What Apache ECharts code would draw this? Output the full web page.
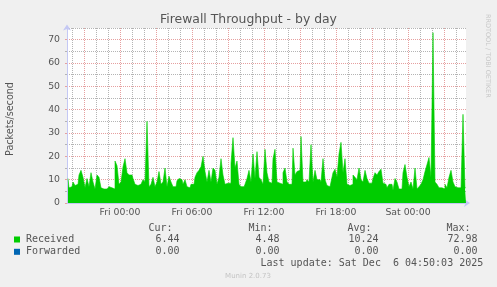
<!DOCTYPE html>
<html><head><meta charset="utf-8">
<script src="https://cdn.jsdelivr.net/npm/echarts@6/dist/echarts.min.js"></script>
<style>html,body{margin:0;padding:0;background:#f0f0f0}#c{width:497px;height:287px}</style>
</head><body><div id="c"></div><script>
const chartTitle = 'Firewall Throughput - by day';
const yAxisTitle = 'Packets/second';
const sideText = 'RRDTOOL / TOBI OETIKER';
const footerText = 'Munin 2.0.73';
const lastUpdateText = 'Last update: Sat Dec  6 04:50:03 2025';

// time in minutes since Thu 00:00; 10-minute samples from Thu 19:40
const dayNames = ['Thu', 'Fri', 'Sat'];
const viewStart = 19 * 60 + 35;          // Thu 19:35
const viewEnd = 2 * 1440 + 4 * 60 + 50;  // Sat 04:50
const firstSample = 19 * 60 + 40;
const stepMinutes = 10;
const received = [
  10.5, 6.5, 7, 9, 7.5, 8, 12, 14, 11, 6.5,
  10.5, 7, 13, 9, 6, 12, 11, 6.5, 6, 6,
  6, 7, 6.5, 6, 18, 16, 8, 9, 15.5, 19,
  13, 12, 12, 10.5, 8, 7.5, 8, 8.5, 10, 9,
  35, 7, 8, 11, 7, 9, 13.5, 8, 9, 15,
  7, 11.5, 9, 7, 7, 9.5, 10.5, 10, 8, 10,
  7, 6.5, 8, 8, 11, 13, 14, 15.5, 20, 13.5,
  9, 14, 9, 15, 14, 8, 11, 19, 12, 8,
  8.5, 8.5, 17, 28, 15, 18, 8, 7, 7, 8,
  10.5, 14, 9, 21, 10.5, 22, 11, 10, 8, 23,
  13, 9, 8.5, 19, 23, 9, 8.5, 8, 13, 15,
  9, 8, 8, 23.5, 12, 13.5, 14, 28.5, 9, 9,
  10, 9, 25, 9, 14, 10, 10, 9, 19, 10,
  7.5, 7, 9, 13, 14.5, 11, 21, 26, 13, 19,
  8, 7.5, 8, 12, 11, 10, 15, 10, 9, 14,
  10.5, 8.5, 8.5, 10.5, 13, 12, 13.5, 14.5, 8.5, 8,
  6.5, 8, 8, 5.5, 10.5, 9, 6, 6, 13, 16.5,
  11, 7, 9, 6, 15, 6, 7, 8, 10, 13.5,
  16.5, 19.5, 11, 73, 9, 8, 6.5, 6.5, 6, 8,
  6.5, 11, 14, 9, 7, 6.5, 6.5, 6.5, 38, 6.5
];
const xTickLabels = ['Fri 00:00', 'Fri 06:00', 'Fri 12:00', 'Fri 18:00', 'Sat 00:00'];
const yMax = 75;

const legendNames = ['Received', 'Forwarded'];
const statHeaders = ['Cur:', 'Min:', 'Avg:', 'Max:'];
const curValues = ['6.44', '0.00'];
const minValues = ['4.48', '0.00'];
const avgValues = ['10.24', '0.00'];
const maxValues = ['72.98', '0.00'];

const toMinute = s => dayNames.indexOf(s.slice(0, 3)) * 1440 + parseInt(s.slice(4, 6), 10) * 60 + parseInt(s.slice(7, 9), 10);
const labelAt = {};
xTickLabels.forEach(s => { labelAt[toMinute(s)] = s; });
const seriesData = received.map((v, i) => [firstSample + i * stepMinutes, v]);

const TXT = '#555';
const GRID_GREY = '#b4b4b4';
const GRID_RED = '#e6a0a0';
const AXIS_COL = '#c4c8f4';
const NONE = 'rgba(0,0,0,0)';
const SANS = 'DejaVu Sans';

// split lines every 5 minutes; colour cycle (3 hours) puts grey on hours, red every 3rd hour
const tickStep = 5;
const vLineColors = [];
for (let k = 0; k < 36; k++) {
  const m = viewStart + k * tickStep;
  const isHr = m % 60 === 0;
  vLineColors.push(!isHr ? NONE : ((m / 60) % 3 === 0 ? GRID_RED : GRID_GREY));
}

const seriesColors = ['#00cc00', '#0066b3'];
const graphic = [
  { type: 'text', x: 248.5, y: 20, style: { text: chartTitle, font: '12.4px "DejaVu Sans"', fill: TXT, textAlign: 'center', textVerticalAlign: 'middle' } },
  { type: 'text', x: 10.5, y: 119, rotation: Math.PI / 2, style: { text: yAxisTitle, font: '9.6px "DejaVu Sans"', fill: TXT, textAlign: 'center', textVerticalAlign: 'middle' } },
  { type: 'text', x: 488, y: 14, rotation: -Math.PI / 2, style: { text: sideText, font: '6.5px "DejaVu Sans"', fill: '#c8c8c8', textAlign: 'left', textVerticalAlign: 'middle' } },
  { type: 'text', x: 248, y: 276, style: { text: footerText, font: '7px "DejaVu Sans"', fill: '#c4c4c4', textAlign: 'center', textVerticalAlign: 'middle' } },
  { type: 'text', x: 260.5, y: 263.5, style: { text: lastUpdateText, font: '10px "DejaVu Sans Mono"', fill: TXT, textAlign: 'left', textVerticalAlign: 'middle' } }
];
const headerX = [148.5, 248.5, 347.5, 446.5];
const valueRight = [179.5, 279.5, 378.5, 477.5];
const statCols = [curValues, minValues, avgValues, maxValues];
statHeaders.forEach((h, j) => {
  graphic.push({ type: 'text', x: headerX[j], y: 228, style: { text: h, font: '10px "DejaVu Sans Mono"', fill: TXT, textAlign: 'left', textVerticalAlign: 'middle' } });
});
legendNames.forEach((name, i) => {
  const y = 239.5 + i * 12.3;
  graphic.push({ type: 'rect', shape: { x: 14, y: y - 3, width: 6, height: 6 }, style: { fill: seriesColors[i] } });
  graphic.push({ type: 'text', x: 26, y: y, style: { text: name, font: '10px "DejaVu Sans Mono"', fill: TXT, textAlign: 'left', textVerticalAlign: 'middle' } });
  statCols.forEach((col, j) => {
    graphic.push({ type: 'text', x: valueRight[j], y: y, style: { text: col[i], font: '10px "DejaVu Sans Mono"', fill: TXT, textAlign: 'right', textVerticalAlign: 'middle' } });
  });
});

const chart = echarts.init(document.getElementById('c'), null, { renderer: 'canvas' });
chart.setOption({
  animation: false,
  backgroundColor: '#f0f0f0',
  grid: { left: 67, top: 28, width: 399, height: 175, show: true, backgroundColor: '#ffffff', borderWidth: 0, outerBoundsMode: 'none' },
  xAxis: [
    {
      type: 'value', min: viewStart, max: viewEnd, interval: tickStep,
      axisLine: { show: true, onZero: true, lineStyle: { color: AXIS_COL, width: 1 }, symbol: ['none', 'arrow'], symbolSize: [6, 6], symbolOffset: [0, 4] },
      axisTick: { show: false },
      axisLabel: { show: true, showMinLabel: true, showMaxLabel: true, hideOverlap: false, formatter: v => labelAt[Math.round(v)] || '', color: TXT, fontFamily: SANS, fontSize: 9.33, margin: 5 },
      splitLine: { show: true, showMinLine: true, showMaxLine: true, lineStyle: { color: vLineColors, width: 1, type: [1, 1] } }
    }
  ],
  yAxis: [
    {
      type: 'value', min: 0, max: yMax, interval: 5,
      axisLine: { show: false },
      axisLabel: { show: false },
      axisTick: { show: true, length: 2, lineStyle: { color: GRID_GREY } },
      splitLine: { show: true, lineStyle: { color: GRID_GREY, width: 1, type: [1, 1] } }
    },
    {
      type: 'value', min: 0, max: yMax, interval: 10, position: 'left',
      axisLine: { show: true, lineStyle: { color: AXIS_COL, width: 1 }, symbol: ['none', 'arrow'], symbolSize: [6, 6], symbolOffset: [0, 3.5] },
      axisTick: { show: true, length: 2, lineStyle: { color: GRID_RED } },
      axisLabel: { color: TXT, fontFamily: SANS, fontSize: 9.33, margin: 7, showMaxLabel: false, formatter: v => (v % 10 === 0 && v <= 70 ? String(v) : '') },
      splitLine: { show: true, showMinLine: true, showMaxLine: false, lineStyle: { color: GRID_RED, width: 1, type: [1, 1] } }
    }
  ],
  series: [
    {
      name: legendNames[0], type: 'line', xAxisIndex: 0, yAxisIndex: 0, data: seriesData, z: 3,
      step: 'middle', symbol: 'none', showSymbol: false,
      lineStyle: { width: 0.6, color: seriesColors[0] },
      areaStyle: { color: seriesColors[0], opacity: 1 }
    }
  ],
  graphic: graphic
});
</script></body></html>
